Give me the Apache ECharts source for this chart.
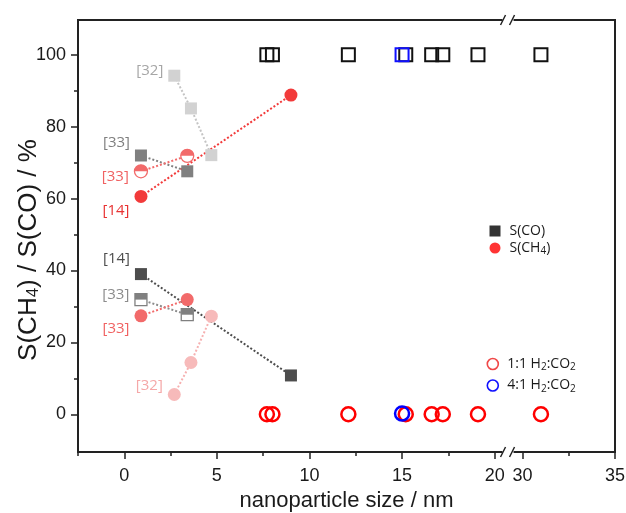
<!DOCTYPE html>
<html>
<head>
<meta charset="utf-8">
<script src="https://cdn.jsdelivr.net/npm/echarts@6/dist/echarts.min.js"></script>
<style>
  html, body { margin: 0; padding: 0; background: #ffffff; }
  #chart { width: 626px; height: 513px; }
</style>
</head>
<body>
<div id="chart"></div>
<script>
// ---- Own catalysts (open symbols) ----
const sizes11 = [7.7, 8.0, 12.1, 15.2, 16.6, 17.2, 19.1, 31.0];
const sCO11   = [100, 100, 100, 100, 100, 100, 100, 100];
const sCH4_11 = [0, 0, 0, 0, 0, 0, 0, 0];
const sizes41 = [15.0];
const sCO41   = [100];
const sCH4_41 = [0.2];

// ---- Literature values (filled / half-filled symbols) ----
const ref14Size = [0.9, 9.0];
const ref14CO   = [39.0, 10.8];
const ref14CH4  = [60.6, 88.8];

const ref33Size = [0.9, 3.4];
const ref33CO   = [72.0, 67.6];
const ref33CH4  = [27.4, 31.9];
const ref33hCO  = [31.9, 27.7];
const ref33hCH4 = [67.6, 71.9];

const ref32Size = [2.7, 3.6, 4.7];
const ref32CO   = [94.2, 85.1, 72.1];
const ref32CH4  = [5.5, 14.4, 27.3];

const refTags = { r14: '[14]', r32: '[32]', r33: '[33]' };

// ---- Axis ticks ----
const xMajor = [0, 5, 10, 15, 20, 30, 35];
const xMinor = [-2.5, 2.5, 7.5, 12.5, 17.5, 32.5];
const yMajor = [0, 20, 40, 60, 80, 100];
const yMinor = [10, 30, 50, 70, 90];

// ---- Legend texts ----
const legendNames = ['S(CO)', 'S(CH4)', '1:1 H2:CO2', '4:1 H2:CO2'];
const legendRich  = {
  'S(CO)': 'S(CO)',
  'S(CH4)': 'S(CH{sub|4})',
  '1:1 H2:CO2': '1:1 H{sub|2}:CO{sub|2}',
  '4:1 H2:CO2': '4:1 H{sub|2}:CO{sub|2}'
};

// broken x axis: 20 .. 30 is squeezed, values above the gap are shifted
const BREAK_SHIFT = 8.5;
const BREAK_AT = 20.75;
const toAxis = x => (x >= 25 ? x - BREAK_SHIFT : x);
const fromAxis = v => (v > BREAK_AT ? v + BREAK_SHIFT : v);
const pts = (xs, ys) => xs.map((x, i) => [toAxis(x), ys[i]]);

const GRID = { left: 78, right: 11, top: 20, bottom: 61 };
const AXIS_COLOR = '#222222';
const AXIS_FONT = 'Liberation Sans';
const TAG_FONT = 'Open Sans';

const HALF_RECT = 'path://M0,0L10,0L10,5L0,5Z';
const HALF_CIRCLE = 'path://M0,5A5,5,0,0,1,10,5Z';

function withTag(data, tag, color, offset) {
  const out = data.map(d => ({ value: d }));
  out[0].label = {
    show: true, formatter: tag, position: 'left', distance: 5, offset: offset,
    color: color, fontFamily: TAG_FONT, fontSize: 15
  };
  return out;
}

function dottedLine(xs, ys, color) {
  return {
    type: 'line', data: pts(xs, ys), symbol: 'none', z: 2, silent: true,
    lineStyle: { color: color, width: 2, type: 'dotted' }
  };
}

function filled(xs, ys, symbol, size, color, tag, tagColor, tagOffset) {
  return {
    type: 'scatter', z: 4, symbol: symbol, symbolSize: size,
    itemStyle: { color: color, opacity: 1 },
    data: withTag(pts(xs, ys), tag, tagColor, tagOffset)
  };
}

function halfFilled(xs, ys, shape, size, color, tag, tagColor, tagOffset) {
  const halfPath = shape === 'rect' ? HALF_RECT : HALF_CIRCLE;
  return [
    {
      type: 'scatter', z: 4, symbol: shape, symbolSize: size,
      itemStyle: { color: '#ffffff', borderColor: color, borderWidth: 1.3, opacity: 1 },
      data: withTag(pts(xs, ys), tag, tagColor, tagOffset)
    },
    {
      type: 'scatter', z: 5, symbol: halfPath, symbolSize: [size, size / 2],
      symbolOffset: [0, -size / 4], silent: true,
      itemStyle: { color: color, opacity: 1 },
      data: pts(xs, ys)
    }
  ];
}

const C = {
  co14: '#4d4d4d', co33: '#808080', co32: '#d2d2d2',
  ch14: '#f23a3a', ch33: '#f26a6a', ch32: '#f7baba'
};

const series = [
  // dotted connections
  dottedLine(ref32Size, ref32CO, '#c4c4c4'),
  dottedLine(ref33Size, ref33CO, C.co33),
  dottedLine(ref14Size, ref14CO, C.co14),
  dottedLine(ref33Size, ref33hCO, '#8c8c8c'),
  dottedLine(ref14Size, ref14CH4, C.ch14),
  dottedLine(ref33Size, ref33CH4, C.ch33),
  dottedLine(ref33Size, ref33hCH4, C.ch33),
  dottedLine(ref32Size, ref32CH4, '#f6b0b0'),

  // literature points
  filled(ref32Size, ref32CO, 'rect', 12, C.co32, refTags.r32, '#a6a6a6', [0, -5]),
  filled(ref33Size, ref33CO, 'rect', 12, C.co33, refTags.r33, '#7f7f7f', [0, -13]),
  filled(ref14Size, ref14CO, 'rect', 12, C.co14, refTags.r14, '#4d4d4d', [0, -15]),
  ...halfFilled(ref33Size, ref33hCO, 'rect', 12, C.co33, refTags.r33, '#8c8c8c', [0, -5]),
  filled(ref14Size, ref14CH4, 'circle', 13, C.ch14, refTags.r14, '#e83232', [0, 14]),
  filled(ref33Size, ref33CH4, 'circle', 13, C.ch33, refTags.r33, '#f06262', [0, 13]),
  ...halfFilled(ref33Size, ref33hCH4, 'circle', 13, C.ch33, refTags.r33, '#f06262', [0, 5]),
  filled(ref32Size, ref32CH4, 'circle', 13, C.ch32, refTags.r32, '#f5a8a8', [0, -9]),

  // own catalysts
  {
    type: 'scatter', z: 6, symbol: 'rect', symbolSize: 13, data: pts(sizes11, sCO11),
    itemStyle: { color: 'rgba(0,0,0,0)', borderColor: '#111111', borderWidth: 2, opacity: 1 }
  },
  {
    type: 'scatter', z: 7, symbol: 'rect', symbolSize: 13, data: pts(sizes41, sCO41),
    itemStyle: { color: 'rgba(0,0,0,0)', borderColor: '#1010ff', borderWidth: 2, opacity: 1 }
  },
  {
    name: legendNames[2], type: 'scatter', z: 6, symbol: 'circle', symbolSize: 14,
    data: pts(sizes11, sCH4_11),
    itemStyle: { color: 'rgba(0,0,0,0)', borderColor: '#ff0000', borderWidth: 2.5, opacity: 1 }
  },
  {
    name: legendNames[3], type: 'scatter', z: 7, symbol: 'circle', symbolSize: 14,
    data: pts(sizes41, sCH4_41),
    itemStyle: { color: 'rgba(0,0,0,0)', borderColor: '#0000ff', borderWidth: 2.5, opacity: 1 }
  },

  // legend entries for symbol meaning
  { name: legendNames[0], type: 'scatter', data: [], symbol: 'rect', itemStyle: { color: '#000000' } },
  { name: legendNames[1], type: 'scatter', data: [], symbol: 'circle', itemStyle: { color: '#ff0000' } }
];

const legendText = {
  fontFamily: TAG_FONT, fontSize: 14, color: '#1a1a1a', padding: [0, 0, 0, 4],
  rich: { sub: { fontFamily: TAG_FONT, fontSize: 10, color: '#1a1a1a', verticalAlign: 'bottom', padding: [7, 0, 0, 0] } }
};

const chart = echarts.init(document.getElementById('chart'), null, { renderer: 'canvas' });

chart.setOption({
  animation: false,
  backgroundColor: '#ffffff',
  grid: Object.assign({
    show: true, borderColor: AXIS_COLOR, borderWidth: 2, backgroundColor: 'rgba(0,0,0,0)',
    containLabel: false, outerBoundsMode: 'none'
  }, GRID),
  legend: [
    {
      orient: 'vertical', left: 489.5, top: 224, padding: 0, itemWidth: 11, itemHeight: 11, itemGap: 3,
      selectedMode: false,
      data: [
        { name: legendNames[0], icon: 'rect', itemStyle: { color: '#000000' } },
        { name: legendNames[1], icon: 'circle', itemStyle: { color: '#ff0000' } }
      ],
      formatter: n => legendRich[n], textStyle: legendText
    },
    {
      orient: 'vertical', left: 486.5, top: 357, padding: 0, itemWidth: 11, itemHeight: 11, itemGap: 6,
      selectedMode: false,
      data: [
        { name: legendNames[2], icon: 'circle', itemStyle: { color: '#ffffff', borderColor: '#f04848', borderWidth: 1.6 } },
        { name: legendNames[3], icon: 'circle', itemStyle: { color: '#ffffff', borderColor: '#1010ff', borderWidth: 1.6 } }
      ],
      formatter: n => legendRich[n], textStyle: legendText
    }
  ],
  xAxis: [
    {
      type: 'value', position: 'bottom', min: -2.5, max: toAxis(35),
      axisLine: { show: false, onZero: false },
      axisTick: { show: true, customValues: xMajor.map(toAxis), length: 7, lineStyle: { color: AXIS_COLOR, width: 1.5 } },
      axisLabel: {
        customValues: xMajor.map(toAxis), formatter: v => String(Math.round(fromAxis(v) * 10) / 10),
        fontFamily: AXIS_FONT, fontSize: 18, color: '#1a1a1a', margin: 15
      },
      splitLine: { show: false },
      name: 'nanoparticle size / nm', nameLocation: 'middle', nameGap: 36,
      nameTextStyle: { fontFamily: AXIS_FONT, fontSize: 22, color: '#1a1a1a' }
    },
    {
      type: 'value', position: 'bottom', min: -2.5, max: toAxis(35),
      axisLine: { show: false, onZero: false },
      axisTick: { show: true, customValues: xMinor.map(toAxis), length: 4, lineStyle: { color: AXIS_COLOR, width: 1.5 } },
      axisLabel: { show: false },
      splitLine: { show: false }
    }
  ],
  yAxis: [
    {
      type: 'value', position: 'left', min: -10.5, max: 109.7,
      axisLine: { show: false, onZero: false },
      axisTick: { show: true, customValues: yMajor, length: 7, lineStyle: { color: AXIS_COLOR, width: 1.5 } },
      axisLabel: { customValues: yMajor, fontFamily: AXIS_FONT, fontSize: 18, color: '#1a1a1a', margin: 12 },
      splitLine: { show: false },
      name: 'S(CH{sub|4}) / S(CO) / %', nameLocation: 'middle', nameGap: 36, nameMoveOverlap: false,
      nameTextStyle: {
        fontFamily: AXIS_FONT, fontSize: 26, color: '#1a1a1a', padding: [0, 28, 0, 0],
        rich: { sub: { fontFamily: AXIS_FONT, fontSize: 17, color: '#1a1a1a', verticalAlign: 'bottom', padding: [10, 0, 0, 0] } }
      }
    },
    {
      type: 'value', position: 'left', min: -10.5, max: 109.7,
      axisLine: { show: false, onZero: false },
      axisTick: { show: true, customValues: yMinor, length: 4, lineStyle: { color: AXIS_COLOR, width: 1.5 } },
      axisLabel: { show: false },
      splitLine: { show: false }
    }
  ],
  series: series
});

// axis-break marks on the top and bottom frame lines
const bx = chart.convertToPixel({ xAxisIndex: 0 }, BREAK_AT);
const frameY = [GRID.top, 513 - GRID.bottom];
const marks = [];
frameY.forEach(y => {
  marks.push({ type: 'rect', z: 100, shape: { x: bx - 6, y: y - 3, width: 11, height: 6 }, style: { fill: '#ffffff' } });
  marks.push({ type: 'line', z: 101, shape: { x1: bx - 8, y1: y + 5, x2: bx - 3, y2: y - 5 }, style: { stroke: AXIS_COLOR, lineWidth: 1.5 } });
  marks.push({ type: 'line', z: 101, shape: { x1: bx + 1, y1: y + 5, x2: bx + 6, y2: y - 5 }, style: { stroke: AXIS_COLOR, lineWidth: 1.5 } });
});
chart.setOption({ graphic: marks });
</script>
</body>
</html>
